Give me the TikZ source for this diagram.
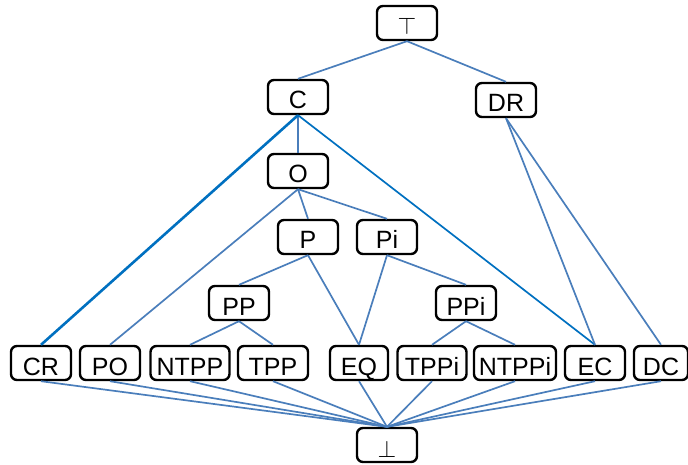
\documentclass[tikz,border=0pt]{standalone}
\usepackage{fontspec}
\setmainfont{Liberation Sans}
\usetikzlibrary{positioning}
\definecolor{linkblue}{HTML}{4A7EBB}
\definecolor{strongblue}{HTML}{0070C0}

\begin{document}
\begin{tikzpicture}[
    x=0.5pt, y=-0.5pt,
    rel/.style={draw, line width=1.2pt, rounded corners=3pt, minimum width=#1, minimum height=17pt,
        inner sep=0pt, text height=12pt, text depth=0pt, font=\fontsize{12.5}{14}\selectfont},
    rel/.default=30pt,
    link/.style={draw=linkblue, line width=0.85pt},
    strong/.style={draw=strongblue, line width=#1},
    strong/.default=0.85pt,
]
    \useasboundingbox (0,0) rectangle (688,464);

    % Top and upper levels
    \node[rel] (top) at (407, 23) {$\top$};
    \node[rel] (C) at (298, 97) {C};
    \node[rel] (DR) at (506, 100) {DR};
    \node[rel] (O) at (298, 171) {O};
    \node[rel] (P) at (308, 237) {P};
    \node[rel] (Pi) at (387, 237) {Pi};
    \node[rel] (PP) at (239, 303) {PP};
    \node[rel] (PPi) at (466, 303) {PPi};

    % Base relations
    \node[rel] (CR) at (41, 363) {CR};
    \node[rel] (PO) at (110, 363) {PO};
    \node[rel=39.5pt] (NTPP) at (190, 363) {NTPP};
    \node[rel=35pt] (TPP) at (273, 363) {TPP};
    \node[rel=29pt] (EQ) at (359, 363) {EQ};
    \node[rel=34.5pt] (TPPi) at (432, 363) {TPPi};
    \node[rel=41pt] (NTPPi) at (515, 363) {NTPPi};
    \node[rel] (EC) at (595, 363) {EC};
    \node[rel=27pt] (DC) at (661, 363) {DC};

    % Bottom
    \node[rel] (bot) at (387, 445) {$\bot$};

    % Links
    \draw[link] (top.south) -- (C.north);
    \draw[link] (top.south) -- (DR.north);
    \draw[link] (C.south) -- (O.north);
    \draw[strong=1.3pt] (C.south) -- (CR.north);
    \draw[strong] (C.south) -- (EC.north);
    \draw[link] (DR.south) -- (EC.north);
    \draw[link] (DR.south) -- (DC.north);
    \draw[link] (O.south) -- (P.north);
    \draw[link] (O.south) -- (Pi.north);
    \draw[link] (O.south) -- (PO.north);
    \draw[link] (P.south) -- (PP.north);
    \draw[link] (P.south) -- (EQ.north);
    \draw[link] (Pi.south) -- (EQ.north);
    \draw[link] (Pi.south) -- (PPi.north);
    \draw[link] (PP.south) -- (NTPP.north);
    \draw[link] (PP.south) -- (TPP.north);
    \draw[link] (PPi.south) -- (TPPi.north);
    \draw[link] (PPi.south) -- (NTPPi.north);

    % Down to bottom
    \foreach \r in {CR, PO, NTPP, TPP, EQ, TPPi, NTPPi, EC, DC}
        \draw[link] (\r.south) -- (bot.north);

\end{tikzpicture}
\end{document}
